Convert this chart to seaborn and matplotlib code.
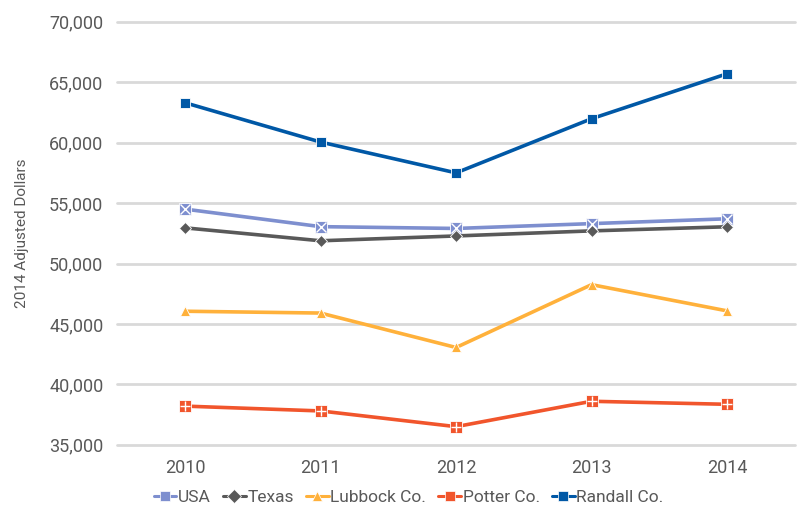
import matplotlib
matplotlib.use("Agg")
import matplotlib.pyplot as plt
import pandas as pd
import seaborn as sns
from matplotlib.lines import Line2D

years = ["2010", "2011", "2012", "2013", "2014"]
usa = [54500, 53050, 52900, 53300, 53700]
texas = [52950, 51880, 52280, 52700, 53040]
lubbock = [46050, 45900, 43050, 48250, 46080]
potter = [38200, 37800, 36500, 38600, 38350]
randall = [63300, 60050, 57500, 61980, 65700]

series = ["USA", "Texas", "Lubbock Co.", "Potter Co.", "Randall Co."]
colors = ["#7E8FCF", "#595959", "#FFB13B", "#F1552C", "#0058A6"]
markers = ["s", "D", "^", "s", "s"]
msizes = [9, 6.5, 7.5, 9, 7]
overlay = ["x", None, None, "+", None]

sns.set_style("white")
plt.rcParams["font.family"] = ["Roboto", "DejaVu Sans"]
txt = "#595959"

df = pd.DataFrame({"year": years * 5,
                   "value": usa + texas + lubbock + potter + randall,
                   "series": [s for s in series for _ in years]})

fig = plt.figure(figsize=(7.98, 5.19), dpi=100)
ax = fig.add_axes([0.147, 0.143, 0.849, 0.815])

sns.lineplot(data=df, x="year", y="value", hue="series", style="series",
             palette=dict(zip(series, colors)), markers=dict(zip(series, markers)),
             dashes=False, linewidth=2.6, markersize=8, markeredgecolor="white",
             markeredgewidth=0.6, legend=False, ax=ax, sort=False)
for line, ms in zip(ax.lines, msizes):
    line.set_markersize(ms)
# white glyphs inside square markers
for s, ov, ms in zip(series, overlay, msizes):
    if ov:
        sub = df[df.series == s]
        ax.plot(range(len(sub)), sub["value"], linestyle="none", marker=ov,
                color="white", markersize=ms - 2, markeredgewidth=1.0, zorder=5)

ax.set_ylim(35000, 70000)
ax.set_xlim(-0.5, 4.5)
ax.set_yticks(range(35000, 70001, 5000))
ax.yaxis.set_major_formatter(matplotlib.ticker.FuncFormatter(lambda v, p: f"{int(v):,}"))
ax.grid(axis="y", color="#D9D9D9", linewidth=2)
ax.grid(axis="x", visible=False)
for gl in ax.yaxis.get_gridlines():
    gl.set_clip_on(False)
ax.set_axisbelow(True)
for sp in ax.spines.values():
    sp.set_visible(False)
ax.tick_params(axis="both", length=0, labelsize=13, labelcolor=txt)
ax.tick_params(axis="y", pad=10)
ax.tick_params(axis="x", pad=10)
ax.set_xlabel("")
ax.set_ylabel("2014 Adjusted Dollars", fontsize=11, color=txt)
ax.yaxis.set_label_coords(-0.13, 0.5)

handles = []
for s, c, m, ov in zip(series, colors, markers, overlay):
    handles.append(Line2D([], [], color=c, marker=m, markersize=7, linewidth=2.2,
                          markeredgecolor="white", markeredgewidth=0.5))
leg = ax.legend(handles, series, loc="upper center", bbox_to_anchor=(0.43, -0.07),
                ncol=5, frameon=False, fontsize=12.5, handlelength=1.3,
                handletextpad=0.1, columnspacing=0.7, labelcolor=txt)

fig.savefig("out.png", dpi=100)
